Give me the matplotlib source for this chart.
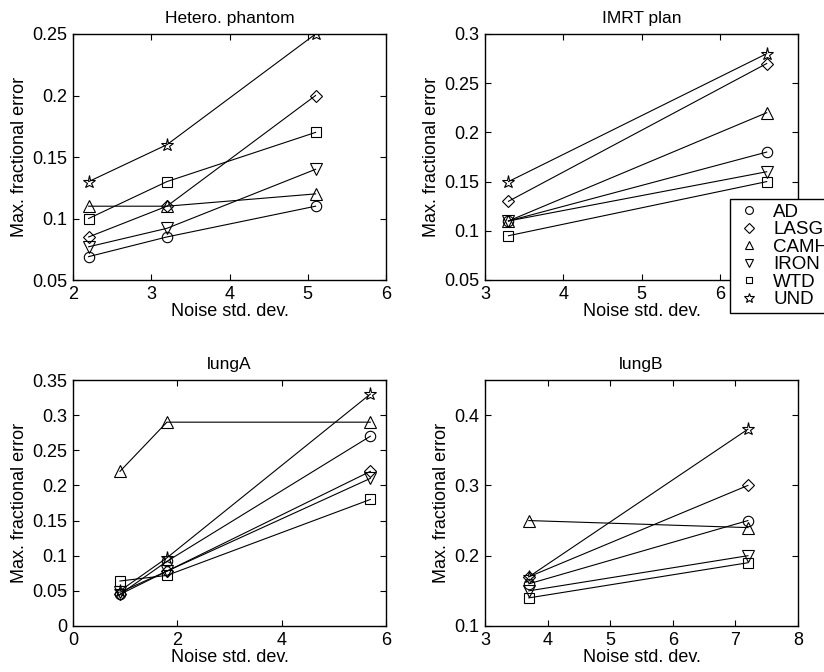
import matplotlib
matplotlib.use("Agg")
import matplotlib.pyplot as plt
from matplotlib.lines import Line2D

plt.rcParams['font.family'] = ['Liberation Sans', 'DejaVu Sans']

methods = ['AD', 'LASG', 'CAMH', 'IRON', 'WTD', 'UND']
markers = ['o', 'D', '^', 'v', 's', '*']

# Hetero. phantom
het_x = [2.2, 3.2, 5.1]
het_AD = [0.069, 0.085, 0.11]
het_LASG = [0.085, 0.11, 0.20]
het_CAMH = [0.11, 0.11, 0.12]
het_IRON = [0.077, 0.092, 0.14]
het_WTD = [0.10, 0.13, 0.17]
het_UND = [0.13, 0.16, 0.25]

# IMRT plan
imrt_x = [3.3, 6.6]
imrt_AD = [0.11, 0.18]
imrt_LASG = [0.13, 0.27]
imrt_CAMH = [0.11, 0.22]
imrt_IRON = [0.11, 0.16]
imrt_WTD = [0.095, 0.15]
imrt_UND = [0.15, 0.28]

# lungA
lunga_x = [0.9, 1.8, 5.7]
lunga_AD = [0.045, 0.092, 0.27]
lunga_LASG = [0.045, 0.078, 0.22]
lunga_CAMH = [0.22, 0.29, 0.29]
lunga_IRON = [0.048, 0.078, 0.21]
lunga_WTD = [0.064, 0.072, 0.18]
lunga_UND = [0.05, 0.097, 0.33]

# lungB
lungb_x = [3.7, 7.2]
lungb_AD = [0.16, 0.25]
lungb_LASG = [0.17, 0.30]
lungb_CAMH = [0.25, 0.24]
lungb_IRON = [0.15, 0.20]
lungb_WTD = [0.14, 0.19]
lungb_UND = [0.17, 0.38]

panels = [
    ("Hetero. phantom", het_x, [het_AD, het_LASG, het_CAMH, het_IRON, het_WTD, het_UND],
     (2, 6), [2, 3, 4, 5, 6], (0.05, 0.25), [0.05, 0.1, 0.15, 0.2, 0.25], ['0.05', '0.1', '0.15', '0.2', '0.25']),
    ("IMRT plan", imrt_x, [imrt_AD, imrt_LASG, imrt_CAMH, imrt_IRON, imrt_WTD, imrt_UND],
     (3, 7), [3, 4, 5, 6, 7], (0.05, 0.3), [0.05, 0.1, 0.15, 0.2, 0.25, 0.3], ['0.05', '0.1', '0.15', '0.2', '0.25', '0.3']),
    ("lungA", lunga_x, [lunga_AD, lunga_LASG, lunga_CAMH, lunga_IRON, lunga_WTD, lunga_UND],
     (0, 6), [0, 2, 4, 6], (0, 0.35), [0, 0.05, 0.1, 0.15, 0.2, 0.25, 0.3, 0.35], ['0', '0.05', '0.1', '0.15', '0.2', '0.25', '0.3', '0.35']),
    ("lungB", lungb_x, [lungb_AD, lungb_LASG, lungb_CAMH, lungb_IRON, lungb_WTD, lungb_UND],
     (3, 8), [3, 4, 5, 6, 7, 8], (0.1, 0.45), [0.1, 0.2, 0.3, 0.4], ['0.1', '0.2', '0.3', '0.4']),
]

fig = plt.figure(figsize=(8.24, 6.72), dpi=100)
rects = [
    [73/824, 1-280/672, 313/824, 246/672],
    [485/824, 1-280/672, 313/824, 246/672],
    [73/824, 1-626/672, 313/824, 246/672],
    [485/824, 1-626/672, 313/824, 246/672],
]
msizes = {'o': 7.5, 'D': 6.3, '^': 8, 'v': 8, 's': 6.5, '*': 9.5}

for rect, (title, xs, series, xlim, xticks, ylim, yticks, ylabels) in zip(rects, panels):
    ax = fig.add_axes(rect)
    for ys, m in zip(series, markers):
        ax.plot(xs, ys, color='black', linewidth=0.8, marker=m, markersize=msizes[m],
                markerfacecolor='none', markeredgecolor='black', markeredgewidth=0.8)
    ax.set_xlim(*xlim)
    ax.set_ylim(*ylim)
    ax.set_xticks(xticks)
    ax.set_xticklabels([str(t) for t in xticks])
    ax.set_yticks(yticks)
    ax.set_yticklabels(ylabels)
    ax.tick_params(direction='in', top=True, right=True, labelsize=13, length=4, width=0.8, pad=4)
    for s in ax.spines.values():
        s.set_linewidth(1.0)
    ax.set_title(title, fontsize=12.5, pad=8)
    ax.set_xlabel("Noise std. dev.", fontsize=13, labelpad=0)
    ax.set_ylabel("Max. fractional error", fontsize=13, labelpad=3)

handles = [Line2D([], [], linestyle='none', marker=m, markersize=msizes[m] * 0.75,
                  markerfacecolor='none', markeredgecolor='black', markeredgewidth=0.8)
           for m in markers]
leg = fig.legend(handles, methods, loc='upper left', bbox_to_anchor=(730/824, 1-199/672),
                 frameon=True, fancybox=False, edgecolor='black', fontsize=13.5,
                 framealpha=1, facecolor='white',
                 handlelength=1.5, handletextpad=0.55, labelspacing=0.02, borderpad=0.25,
                 borderaxespad=0)
leg.set_zorder(10)
leg.get_frame().set_linewidth(1.0)

fig.savefig("out.png", dpi=100)
